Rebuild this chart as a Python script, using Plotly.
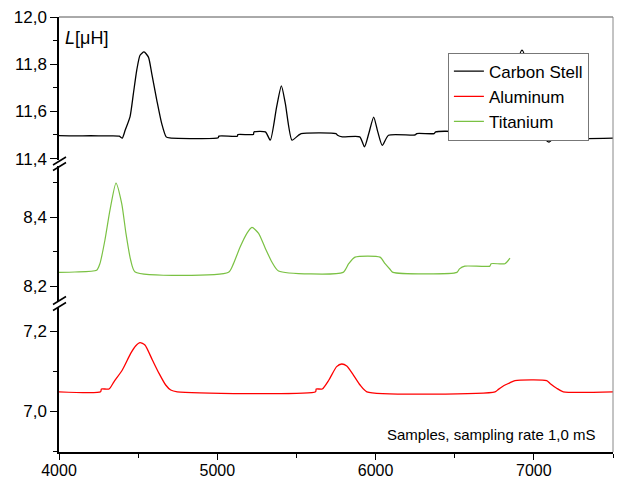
import plotly.graph_objects as go

# ---------------- data ----------------
carbon_x = [4000, 4100, 4200, 4300, 4380, 4400, 4418, 4449, 4470, 4491, 4512, 4537, 4565, 4586,
            4618, 4649, 4677, 4700, 5006, 5010, 5127, 5130, 5228, 5232, 5304, 5335, 5375, 5405,
            5430, 5472, 5513, 5530, 5750, 5760, 5790, 5900, 5930, 5957, 5988, 6014, 6042, 6082,
            6250, 6260, 6370, 6380, 6490, 6500, 6756, 6791, 6815, 6840, 6870, 6900, 6925, 6950,
            6980, 7013, 7050, 7095, 7140, 7171, 7215, 7500]
carbon_y = [11.497, 11.496, 11.497, 11.496, 11.495, 11.487, 11.52, 11.578, 11.675, 11.774, 11.838,
            11.852, 11.83, 11.76, 11.647, 11.548, 11.492, 11.488, 11.488, 11.495, 11.495, 11.502,
            11.502, 11.513, 11.513, 11.478, 11.619, 11.708, 11.633, 11.478, 11.499, 11.506, 11.506,
            11.499, 11.492, 11.492, 11.45, 11.506, 11.576, 11.513, 11.456, 11.499, 11.5, 11.506,
            11.506, 11.513, 11.513, 11.495, 11.495, 11.478, 11.52, 11.575, 11.72, 11.82, 11.86,
            11.82, 11.70, 11.575, 11.50, 11.47, 11.495, 11.499, 11.487, 11.487]

alu_x = [4000, 4263, 4268, 4316, 4347, 4400, 4453, 4484, 4512, 4543, 4590, 4632, 4674, 4706, 4747,
         5621, 5625, 5663, 5705, 5754, 5786, 5818, 5860, 5902, 5945, 6755, 6776, 6818, 6850, 6881,
         7081, 7102, 7144, 7186, 7500]
alu_y = [7.048, 7.048, 7.055, 7.055, 7.073, 7.1025, 7.144, 7.1625, 7.171, 7.165, 7.1275, 7.094,
         7.065, 7.0525, 7.048, 7.048, 7.055, 7.055, 7.0775, 7.111, 7.1175, 7.1125, 7.09, 7.065,
         7.048, 7.048, 7.054, 7.065, 7.0708, 7.076, 7.076, 7.069, 7.057, 7.048, 7.048]

ti_x = [4000, 4100, 4238, 4259, 4290, 4322, 4360, 4396, 4423, 4453, 4481, 5071, 5103, 5145, 5187,
        5219, 5261, 5303, 5345, 5387, 5795, 5830, 5870, 6028, 6060, 6091, 6110, 6514, 6530, 6564,
        6722, 6730, 6817, 6849]
ti_y = [8.240, 8.241, 8.246, 8.266, 8.333, 8.42, 8.4986, 8.44, 8.353, 8.275, 8.241, 8.240, 8.266,
        8.314, 8.353, 8.37, 8.353, 8.31, 8.27, 8.244, 8.240, 8.265, 8.284, 8.284, 8.265, 8.249,
        8.240, 8.240, 8.250, 8.258, 8.258, 8.265, 8.265, 8.281]

x_ticks = [4000, 5000, 6000, 7000]
x_ticktext = ["4000", "5000", "6000", "7000"]
top_ticks = [11.4, 11.6, 11.8, 12.0]
top_ticktext = ["11,4", "11,6", "11,8", "12,0"]
mid_ticks = [8.2, 8.4]
mid_ticktext = ["8,2", "8,4"]
bot_ticks = [7.0, 7.2]
bot_ticktext = ["7,0", "7,2"]

# ---------------- figure ----------------
FONT = "Arial, Liberation Sans, sans-serif"
fig = go.Figure()
fig.add_trace(go.Scatter(x=carbon_x, y=carbon_y, mode="lines", name="Carbon Stell",
                         line=dict(color="#000000", width=1.3, shape="spline", smoothing=0.6),
                         yaxis="y"))
fig.add_trace(go.Scatter(x=alu_x, y=alu_y, mode="lines", name="Aluminum",
                         line=dict(color="#ff0000", width=1.3, shape="spline", smoothing=0.6),
                         yaxis="y3"))
fig.add_trace(go.Scatter(x=ti_x, y=ti_y, mode="lines", name="Titanium",
                         line=dict(color="#7ac143", width=1.2, shape="spline", smoothing=0.6),
                         yaxis="y2"))

yax_common = dict(showgrid=False, zeroline=False, showline=True, linecolor="black", linewidth=1.5,
                  ticks="outside", ticklen=7, tickwidth=1.3, tickcolor="black",
                  tickfont=dict(family=FONT, size=17, color="black"), anchor="x",
                  tickmode="array", automargin=False)

fig.update_layout(
    width=617, height=479,
    margin=dict(l=59, r=4, t=17, b=27),
    paper_bgcolor="white", plot_bgcolor="white",
    showlegend=True,
    legend=dict(x=0.702, y=0.918, xanchor="left", yanchor="top",
                bgcolor="white", bordercolor="#777777", borderwidth=1,
                font=dict(family=FONT, size=17, color="black"), tracegroupgap=0),
    xaxis=dict(range=[4000, 7500], showgrid=False, zeroline=False, showline=True,
               linecolor="black", linewidth=1.5, ticks="outside", ticklen=6, tickwidth=1.3,
               tickcolor="black", tickmode="array", tickvals=x_ticks, ticktext=x_ticktext,
               tickfont=dict(family=FONT, size=16, color="black"), anchor="y3",
               automargin=False, ticklabelstandoff=-3,
               minor=dict(ticks="outside", ticklen=4, tickwidth=1.3, tickcolor="black",
                          dtick=500, tick0=4000)),
    yaxis=dict(domain=[0.6713, 1.0], range=[11.394, 12.0], tickvals=top_ticks,
               ticktext=top_ticktext,
               minor=dict(ticks="outside", ticklen=4, tickwidth=1.3, tickcolor="black",
                          dtick=0.1, tick0=11.4), **yax_common),
    yaxis2=dict(domain=[0.3471, 0.6575], range=[8.157, 8.548], tickvals=mid_ticks,
                ticktext=mid_ticktext,
                minor=dict(ticks="outside", ticklen=4, tickwidth=1.3, tickcolor="black",
                           dtick=0.1, tick0=8.2), **yax_common),
    yaxis3=dict(domain=[0.0, 0.331], range=[6.8975, 7.2575], tickvals=bot_ticks,
                ticktext=bot_ticktext,
                minor=dict(ticks="outside", ticklen=4, tickwidth=1.3, tickcolor="black",
                           dtick=0.1, tick0=7.0), **yax_common),
)

# frame (top and right)
fig.add_shape(type="line", xref="paper", yref="paper", x0=0, x1=1, y0=1, y1=1,
              line=dict(color="#555555", width=1))
fig.add_shape(type="line", xref="paper", yref="paper", x0=1, x1=1, y0=0, y1=1,
              line=dict(color="#888888", width=1))

# axis break marks (pixel -> paper)
def px_x(p):
    return (p - 59) / 554.0

def px_y(p):
    return (452 - p) / 435.0

for (xa, ya, xb, yb) in [(53, 165, 66, 157), (53, 170.5, 66, 162.5),
                         (53, 304.5, 66, 296.5), (53, 310.5, 66, 302.5)]:
    fig.add_shape(type="line", xref="paper", yref="paper",
                  x0=px_x(xa), y0=px_y(ya), x1=px_x(xb), y1=px_y(yb),
                  line=dict(color="black", width=1.5))

fig.add_annotation(xref="paper", yref="paper", x=px_x(63), y=px_y(38.5), xanchor="left",
                   yanchor="middle", showarrow=False, text="<i>L</i>[μH]",
                   font=dict(family=FONT, size=18, color="black"))
fig.add_annotation(xref="paper", yref="paper", x=px_x(597), y=px_y(434), xanchor="right",
                   yanchor="middle", showarrow=False, text="Samples, sampling rate 1,0 mS",
                   font=dict(family=FONT, size=15, color="black"))

fig.write_html("out.html", config={"displayModeBar": False},
               post_script="document.body.style.margin='0';")
